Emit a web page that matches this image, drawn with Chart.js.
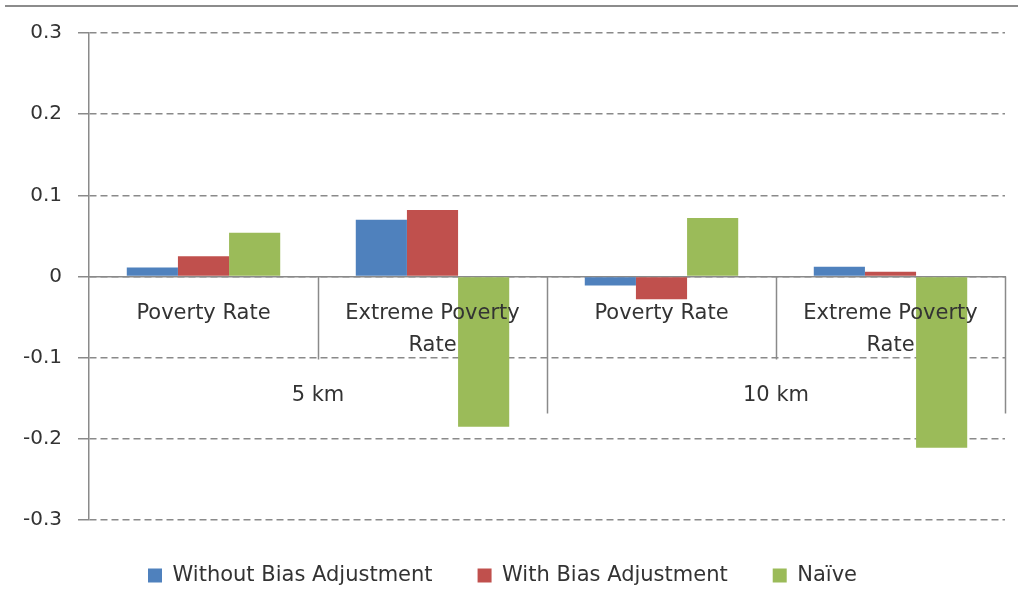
<!DOCTYPE html>
<html>
<head>
<meta charset="utf-8">
<script src="https://cdn.jsdelivr.net/npm/chart.js@4/dist/chart.umd.min.js"></script>
<style>
  body { margin: 0; background: #fff; }
  #wrap { position: relative; width: 1018px; height: 611px; }
  #topline { position: absolute; top: 5px; left: 5px; right: 0; border-top: 2px solid #8c8c8c; }
</style>
</head>
<body>
<div id="wrap">
  <div id="topline"></div>
  <canvas id="chart" width="1018" height="611"></canvas>
</div>
<script>
const categories = ['Poverty Rate', ['Extreme Poverty', 'Rate'], 'Poverty Rate', ['Extreme Poverty', 'Rate']];
const groups = ['5 km', '10 km'];
const withoutBias = [0.011, 0.070, -0.011, 0.012];
const withBias = [0.025, 0.082, -0.028, 0.006];
const naive = [0.054, -0.185, 0.072, -0.211];

const FONT = 'DejaVu Sans';
const TEXT = '#333333';
const GRID = '#8a8a8a';

// separators under the zero line + group labels (5 km / 10 km)
const groupAxis = {
    id: 'groupAxis',
    afterDatasetsDraw(chart) {
        const ctx = chart.ctx;
        const x = chart.scales.x;
        const y = chart.scales.y;
        const zero = y.getPixelForValue(0);
        const step = (x.right - x.left) / categories.length;
        ctx.save();
        ctx.strokeStyle = GRID;
        ctx.lineWidth = 1.5;
        for (let i = 1; i <= categories.length; i++) {
            const px = Math.round(x.left + step * i) + 0.5;
            const isGroup = i % 2 === 0;
            ctx.beginPath();
            ctx.moveTo(px, zero);
            ctx.lineTo(px, zero + (isGroup ? 137 : 83));
            ctx.stroke();
        }
        ctx.fillStyle = TEXT;
        ctx.font = '21px "' + FONT + '"';
        ctx.textAlign = 'center';
        ctx.textBaseline = 'middle';
        groups.forEach((g, gi) => {
            const cx = (x.getPixelForValue(gi * 2) + x.getPixelForValue(gi * 2 + 1)) / 2;
            ctx.fillText(g, cx, zero + 119);
        });
        ctx.restore();
    }
};

new Chart(document.getElementById('chart'), {
    type: 'bar',
    data: {
        labels: categories,
        datasets: [
            { label: 'Without Bias Adjustment', data: withoutBias, backgroundColor: '#4F81BD' },
            { label: 'With Bias Adjustment', data: withBias, backgroundColor: '#C0504D' },
            { label: 'Naïve', data: naive, backgroundColor: '#9BBB59' },
        ],
    },
    options: {
        responsive: false,
        animation: false,
        categoryPercentage: 0.67,
        barPercentage: 1.0,
        layout: {
            padding: { left: 0, right: 13, top: 33, bottom: 15 },
        },
        scales: {
            x: {
                position: { y: 0 },
                grid: { display: false },
                border: { display: true, color: GRID, width: 1.5 },
                ticks: {
                    z: 1,
                    padding: 13,
                    color: TEXT,
                    maxRotation: 0,
                    autoSkip: false,
                    font: { family: FONT, size: 21, lineHeight: 1.52 },
                },
            },
            y: {
                min: -0.3,
                max: 0.3,
                afterFit(scale) { scale.width = 89; },
                grid: { color: GRID, lineWidth: 1.5, tickLength: 11 },
                border: { display: true, color: GRID, width: 1.5, dash: [7, 4] },
                ticks: {
                    stepSize: 0.1,
                    padding: 16,
                    color: TEXT,
                    font: { family: FONT, size: 20 },
                },
            },
        },
        plugins: {
            legend: {
                position: 'bottom',
                labels: {
                    boxWidth: 14,
                    boxHeight: 14,
                    padding: 45,
                    color: TEXT,
                    font: { family: FONT, size: 21 },
                },
            },
            tooltip: { enabled: false },
        },
    },
    plugins: [groupAxis],
});
</script>
</body>
</html>
